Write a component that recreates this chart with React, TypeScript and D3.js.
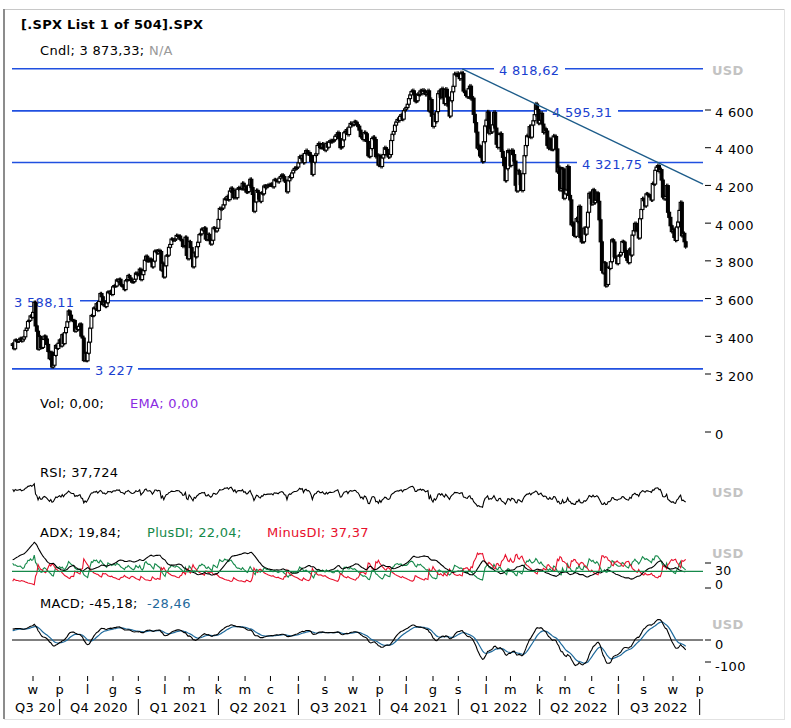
import React from "react";
import * as d3 from "d3";

// ---------- DATA (daily closes) ----------
const warmup2020 = [3055.73, 3080.82, 3122.87, 3112.35, 3193.93, 3232.39, 3207.18, 3190.14, 3002.1, 3041.31, 3066.59, 3124.74, 3113.49, 3115.34, 3097.74, 3117.86, 3131.29, 3050.33, 3083.76, 3009.05, 3053.24, 3100.29,
  3115.86, 3130.01, 3179.72, 3145.32, 3169.94, 3152.05, 3185.04, 3155.22, 3197.52, 3226.56, 3215.57, 3224.73, 3251.84, 3257.3, 3276.02, 3235.66, 3215.63, 3239.41, 3218.44, 3258.44, 3246.22, 3271.12,
  3294.61, 3306.51, 3327.77, 3349.16, 3351.28];
const aug2020 = [3360.47, 3333.69, 3380.35, 3373.43, 3372.85, 3381.99, 3389.78, 3374.85, 3385.51, 3397.16, 3431.28, 3443.62, 3478.73, 3484.55, 3508.01, 3500.31];
const sep2020 = [3526.65, 3580.84, 3455.06, 3426.96, 3331.84, 3398.96, 3339.19, 3340.97, 3383.54, 3401.2, 3385.49, 3357.01, 3319.47, 3281.06, 3315.57, 3236.92, 3246.59, 3298.46, 3351.6, 3335.47, 3363.0];
const oct2020 = [3380.8, 3348.42, 3408.6, 3360.97, 3419.44, 3446.83, 3477.14, 3534.22, 3511.93, 3488.67, 3483.34, 3483.81, 3426.92, 3443.12, 3435.56, 3453.49, 3465.39, 3400.97, 3390.68, 3271.03, 3310.11, 3269.96];
const nov2020 = [3310.24, 3369.16, 3443.44, 3510.45, 3509.44, 3550.5, 3545.53, 3572.66, 3537.01, 3585.15, 3626.91, 3609.53, 3567.79, 3581.87, 3557.54, 3577.59, 3635.41, 3629.65, 3638.35, 3621.63];
const dec2020 = [3662.45, 3669.01, 3666.72, 3699.12, 3691.96, 3702.25, 3672.82, 3668.1, 3663.46, 3647.49, 3694.62, 3701.17, 3722.48, 3709.41, 3694.92, 3687.26, 3690.01, 3703.06, 3735.36, 3727.04, 3732.04, 3756.07];
const jan2021 = [3700.65, 3726.86, 3748.14, 3803.79, 3824.68, 3799.61, 3801.19, 3809.84, 3795.54, 3768.25, 3798.91, 3851.85, 3853.07, 3841.47, 3855.36, 3849.62, 3750.77, 3787.38, 3714.24];
const feb2021 = [3773.86, 3826.31, 3830.17, 3871.74, 3886.83, 3915.59, 3911.23, 3909.88, 3916.38, 3934.83, 3932.59, 3931.33, 3913.97, 3906.71, 3876.5, 3881.37, 3925.43, 3829.34, 3811.15];
const mar2021 = [3901.82, 3870.29, 3819.72, 3768.47, 3841.94, 3821.35, 3875.44, 3898.81, 3939.34, 3943.34, 3968.94, 3962.71, 3974.12, 3915.46, 3913.1, 3940.59, 3910.52, 3889.14, 3909.52, 3974.54, 3971.09, 3958.55, 3972.89];
const apr2021 = [4019.87, 4077.91, 4073.94, 4079.95, 4097.17, 4128.8, 4127.99, 4141.59, 4124.66, 4170.42, 4185.47, 4163.26, 4134.94, 4173.42, 4134.98, 4180.17, 4187.62, 4186.72, 4183.18, 4211.47, 4181.17];
const may2021 = [4192.66, 4164.66, 4167.59, 4201.62, 4232.6, 4188.43, 4152.1, 4063.04, 4112.5, 4173.85, 4163.29, 4127.83, 4115.68, 4159.12, 4155.86, 4197.05, 4188.13, 4195.99, 4200.88, 4204.11];
const jun2021 = [4202.04, 4208.12, 4192.85, 4229.89, 4226.52, 4227.26, 4219.55, 4239.18, 4247.44, 4255.15, 4246.59, 4223.7, 4221.86, 4166.45, 4224.79, 4246.44, 4241.84, 4266.49, 4280.7, 4290.61, 4291.8, 4297.5];
const jul2021 = [4319.94, 4352.34, 4343.54, 4358.13, 4320.82, 4369.55, 4384.63, 4369.21, 4374.3, 4360.03, 4327.16, 4258.49, 4323.06, 4358.69, 4367.48, 4411.79, 4422.3, 4401.46, 4400.64, 4419.15, 4395.26];
const aug2021 = [4387.16, 4423.15, 4402.66, 4429.1, 4436.52, 4432.35, 4436.75, 4442.41, 4460.83, 4468.0, 4479.71, 4448.08, 4400.27, 4405.8, 4441.67, 4479.53, 4486.23, 4496.19, 4470.0, 4509.37, 4528.79, 4522.68];
const sep2021 = [4524.09, 4536.95, 4535.43, 4520.03, 4514.07, 4493.28, 4458.58, 4468.73, 4443.05, 4480.7, 4473.75, 4432.99, 4357.73, 4354.19, 4395.64, 4448.98, 4455.48, 4443.11, 4352.63, 4359.46, 4307.54];
const oct2021 = [4357.04, 4300.46, 4345.72, 4363.55, 4399.76, 4391.34, 4361.19, 4350.65, 4363.8, 4438.26, 4471.37, 4486.46, 4519.63, 4536.19, 4549.78, 4544.9, 4566.48, 4574.79, 4551.68, 4596.42, 4605.38];
const nov2021 = [4613.67, 4630.65, 4660.57, 4680.06, 4697.53, 4701.7, 4685.25, 4646.71, 4649.27, 4682.85, 4682.8, 4700.9, 4688.67, 4704.54, 4697.96, 4682.94, 4690.7, 4701.46, 4594.62, 4655.27, 4567.0];
const dec2021 = [4513.04, 4577.1, 4538.43, 4591.67, 4686.75, 4701.21, 4667.45, 4712.02, 4668.97, 4634.09, 4709.85, 4668.67, 4620.64, 4568.02, 4649.23, 4696.56, 4725.79, 4791.19, 4786.35, 4793.06, 4778.73, 4766.18];
const jan2022 = [4796.56, 4793.54, 4700.58, 4696.05, 4677.03, 4670.29, 4713.07, 4726.35, 4659.03, 4662.85, 4577.11, 4532.76, 4482.73, 4397.94, 4410.13, 4356.45, 4349.93, 4326.51, 4431.85, 4515.55];
const feb2022 = [4546.54, 4589.38, 4477.44, 4500.53, 4483.87, 4521.54, 4587.18, 4504.08, 4418.64, 4401.67, 4471.07, 4475.01, 4380.26, 4348.87, 4304.76, 4225.5, 4288.7, 4384.65, 4373.94];
const mar2022 = [4306.26, 4386.54, 4363.49, 4328.87, 4201.09, 4170.7, 4277.88, 4259.52, 4204.31, 4173.11, 4262.45, 4357.86, 4411.67, 4463.12, 4461.18, 4511.61, 4456.24, 4520.16, 4543.06, 4575.52, 4631.6, 4602.45, 4530.41];
const apr2022 = [4545.86, 4582.64, 4525.12, 4481.15, 4500.21, 4488.28, 4412.53, 4397.45, 4446.59, 4392.59, 4391.69, 4462.21, 4459.45, 4393.66, 4271.78, 4296.12, 4175.2, 4183.96, 4287.5, 4131.93];
const may2022 = [4155.38, 4175.48, 4300.17, 4146.87, 4123.34, 3991.24, 4001.05, 3935.18, 3930.08, 4023.89, 4008.01, 4088.85, 3923.68, 3900.79, 3901.36, 3973.75, 3941.48, 3978.73, 4057.84, 4158.24, 4132.15];
const jun2022 = [4101.23, 4176.82, 4108.54, 4121.43, 4160.68, 4115.77, 4017.82, 3900.86, 3749.63, 3735.48, 3789.99, 3666.77, 3674.84, 3764.79, 3759.89, 3795.73, 3911.74, 3900.11, 3821.55, 3818.83, 3785.38];
const jul2022 = [3825.33, 3831.39, 3845.08, 3902.62, 3899.38, 3854.43, 3818.8, 3801.78, 3790.38, 3863.16, 3830.85, 3936.69, 3959.9, 3998.95, 3961.63, 3966.84, 3921.05, 4023.61, 4072.43, 4130.29];
const aug2022 = [4118.63, 4091.19, 4155.17, 4151.94, 4145.19, 4140.06, 4122.47, 4210.24, 4207.27, 4280.15, 4297.14, 4305.2, 4274.04, 4283.74, 4228.48, 4137.99, 4128.73, 4140.77, 4199.12, 4057.66, 4030.61, 3986.16, 3955.0];
const sep2022 = [3966.85, 3924.26, 3908.19, 3979.87, 4006.18, 4067.36, 4110.41, 3932.69, 3946.01, 3901.35, 3873.33];

const monthBlocks = [aug2020, sep2020, oct2020, nov2020, dec2020, jan2021, feb2021, mar2021, apr2021, may2021, jun2021,
  jul2021, aug2021, sep2021, oct2021, nov2021, dec2021, jan2022, feb2022, mar2022, apr2022, may2022, jun2022, jul2022, aug2022, sep2022];

const marketHolidays = ["2020-09-07", "2020-11-26", "2020-12-25", "2021-01-01", "2021-01-18", "2021-02-15", "2021-04-02", "2021-05-31",
  "2021-07-05", "2021-09-06", "2021-11-25", "2021-12-24", "2022-01-17", "2022-02-21", "2022-04-15", "2022-05-30", "2022-06-20", "2022-07-04", "2022-09-05"];

const priceTicks = [3200, 3400, 3600, 3800, 4000, 4200, 4400, 4600];
const levelValues = [4818.62, 4595.31, 4321.75, 3588.11, 3227];
const trendStart = { date: "2022-01-04", value: 4818.62 };
const trendThrough = { date: "2022-08-16", value: 4321.75 };
const monthLetters = ["s", "l", "m", "k", "m", "c", "l", "s", "w", "p", "l", "g"];
const quarterNames = ["Q3 20", "Q4 2020", "Q1 2021", "Q2 2021", "Q3 2021", "Q4 2021", "Q1 2022", "Q2 2022", "Q3 2022"];

const titleText = "[.SPX List 1 of 504].SPX";
const rsiLast = 37.724;
const adxLast = 19.84;
const plusLast = 22.04;
const minusLast = 37.37;
const macdLast = -45.18;
const signalLast = -28.46;
const volLast = 0;
const volEmaLast = 0;
const adxTicks = [30, 0];
const adxGuide = 20;
const macdTicks = [0, -100];

// ---------- STYLE / LAYOUT ----------
const W = 791, H = 728;
const FONT = "DejaVu Sans, Verdana, sans-serif";
const BLUE = "#2050e0";
const BLUE_TXT = "#1a3fd0";
const TREND = "#1d5c8a";
const GREEN = "#15894a";
const RED = "#e8102c";
const SIGBLUE = "#1f6a9c";
const GRAY = "#c3c3c3";
const levelLabelX = [499, 552, 582, 14, 95];
const levelLabelW = [60, 60, 60, 60, 37];
const X_L = 12, X_R = 703;

const loc = d3.formatLocale({ decimal: ",", thousands: "\u00a0", grouping: [3], currency: ["", ""], minus: "-" });
const f2 = loc.format(",.2f");
const f3 = loc.format(",.3f");
const fInt = loc.format(",d");
const fLevel = (v: number) => (Number.isInteger(v) ? fInt(v) : f2(v));

function isoDay(d: Date) { return d.toISOString().slice(0, 10); }
function tradingDays(start: string, end: string) {
  const hol = new Set(marketHolidays);
  const out: Date[] = [];
  let d = new Date(start + "T00:00:00Z");
  const e = new Date(end + "T00:00:00Z");
  while (d <= e) {
    const wd = d.getUTCDay();
    if (wd !== 0 && wd !== 6 && !hol.has(isoDay(d))) out.push(new Date(d));
    d = new Date(d.getTime() + 86400000);
  }
  return out;
}

function ema(a: number[], n: number) {
  const k = 2 / (n + 1);
  const out: number[] = [];
  a.forEach((v, i) => out.push(i === 0 ? v : v * k + out[i - 1] * (1 - k)));
  return out;
}
// Wilder smoothing seeded with the mean of the first n values
function wilder(a: number[], n: number, from = 0) {
  const out: number[] = new Array(a.length).fill(NaN);
  const seedEnd = from + n;
  let s = 0;
  for (let i = from; i < Math.min(seedEnd, a.length); i++) { s += a[i]; out[i] = s / (i - from + 1); }
  for (let i = seedEnd; i < a.length; i++) out[i] = (out[i - 1] * (n - 1) + a[i]) / n;
  return out;
}

export default function App() {
  const closes = monthBlocks.flat();
  const all = warmup2020.concat(closes);
  const W0 = warmup2020.length;
  const opens = all.map((c, i) => (i === 0 ? c : all[i - 1]));
  const highs = all.map((c, i) => Math.max(c, opens[i]) * 1.0025);
  const lows = all.map((c, i) => Math.min(c, opens[i]) * 0.9975);

  // MACD
  const e12 = ema(all, 12), e26 = ema(all, 26);
  const macdAll = all.map((_, i) => e12[i] - e26[i]);
  const sigAll = ema(macdAll, 9);
  // RSI
  const gains = all.map((c, i) => (i === 0 ? 0 : Math.max(c - all[i - 1], 0)));
  const losses = all.map((c, i) => (i === 0 ? 0 : Math.max(all[i - 1] - c, 0)));
  const ag = wilder(gains, 14, 1), al = wilder(losses, 14, 1);
  const rsiAll = all.map((_, i) => (al[i] === 0 ? 100 : 100 - 100 / (1 + ag[i] / al[i])));
  // ADX / DI
  const tr = all.map((_, i) => i === 0 ? highs[i] - lows[i] : Math.max(highs[i] - lows[i], Math.abs(highs[i] - all[i - 1]), Math.abs(lows[i] - all[i - 1])));
  const pdm = all.map((_, i) => { if (i === 0) return 0; const up = highs[i] - highs[i - 1], dn = lows[i - 1] - lows[i]; return up > dn && up > 0 ? up : 0; });
  const mdm = all.map((_, i) => { if (i === 0) return 0; const up = highs[i] - highs[i - 1], dn = lows[i - 1] - lows[i]; return dn > up && dn > 0 ? dn : 0; });
  const str = wilder(tr, 14, 1), sp = wilder(pdm, 14, 1), sm = wilder(mdm, 14, 1);
  const pdi = all.map((_, i) => (100 * sp[i]) / str[i]);
  const mdi = all.map((_, i) => (100 * sm[i]) / str[i]);
  const dx = all.map((_, i) => (100 * Math.abs(pdi[i] - mdi[i])) / Math.max(pdi[i] + mdi[i], 1e-9));
  const adxAll = wilder(dx, 14, 15);

  const sl = (a: number[]) => a.slice(W0);
  const O = sl(opens), Hh = sl(highs), Ll = sl(lows);
  const rsi = sl(rsiAll), macd = sl(macdAll), sig = sl(sigAll), pd = sl(pdi), md = sl(mdi), adx = sl(adxAll);

  const days = tradingDays("2020-08-10", "2022-10-31");
  const dayIndex = (iso: string) => days.findIndex((d) => isoDay(d) === iso);

  const x = d3.scaleLinear().domain([16, 520]).range([33, 673]);
  const yP = d3.scaleLinear().domain([3200, 4600]).range([374, 110]);
  const yR = d3.scaleLinear().domain([0, 100]).range([517, 477]);
  const yA = d3.scaleLinear().domain([0, 30]).range([588, 563]);
  const yM = d3.scaleLinear().domain([-100, 0]).range([662, 640]);

  const lineOf = (ys: d3.ScaleLinear<number, number>) =>
    d3.line<number>().defined((v) => Number.isFinite(v)).x((_, i) => x(i)).y((v) => ys(v));

  // month ticks up to Oct 2022
  const lastTickIdx = dayIndex("2022-10-03");
  const monthTicks: { i: number; m: number; px: number }[] = [];
  for (let i = 1; i <= lastTickIdx; i++) {
    const m = days[i].getUTCMonth();
    if (m !== days[i - 1].getUTCMonth()) monthTicks.push({ i, m, px: x(i) - (m === 0 ? 2.6 : 0) });
  }
  const qSeps = monthTicks.filter((t) => t.m % 3 === 0);

  // trend line
  const ti0 = dayIndex(trendStart.date), ti1 = dayIndex(trendThrough.date);
  const tx0 = x(ti0), ty0 = yP(trendStart.value), tx1 = x(ti1), ty1 = yP(trendThrough.value);
  const slope = (ty1 - ty0) / (tx1 - tx0);
  const tyEnd = ty0 + slope * (X_R - tx0);

  const bodyW = 2.9;
  const txt = { fontFamily: FONT, fontSize: 13, letterSpacing: 0.3 } as const;

  return (
    <svg width={W} height={H} style={{ position: "absolute", left: 0, top: 0, background: "#fff" }}>
      <rect x={0} y={0} width={W} height={H} fill="#fff" />
      {/* frame */}
      <line x1={4} y1={9.5} x2={784} y2={9.5} stroke="#c8c8c8" strokeWidth={1} />
      <line x1={4} y1={9} x2={4} y2={719} stroke="#8c8c8c" strokeWidth={2} />
      <line x1={784.5} y1={9} x2={784.5} y2={719} stroke="#e2e2e2" strokeWidth={1} />
      <line x1={4} y1={719.5} x2={785} y2={719.5} stroke="#e2e2e2" strokeWidth={1} />

      {/* headers */}
      <text x={21} y={29} {...txt} fontWeight="bold" fill="#000">{titleText}</text>
      <text x={40} y={55} {...txt} fill="#000">
        {`Cndl; ${f2(closes[closes.length - 1])}; `}<tspan fill="#9a9a9a">N/A</tspan>
      </text>

      {/* horizontal levels */}
      {levelValues.map((v, k) => {
        const yy = yP(v);
        const g0 = levelLabelX[k] - 5, g1 = levelLabelX[k] + levelLabelW[k] + 6;
        return (
          <g key={"lv" + k}>
            {g0 > X_L && <line x1={X_L} x2={g0} y1={yy} y2={yy} stroke={BLUE} strokeWidth={1.6} />}
            <line x1={Math.max(g1, X_L)} x2={X_R} y1={yy} y2={yy} stroke={BLUE} strokeWidth={1.6} />
            <text x={levelLabelX[k]} y={yP(v) + 2} dy="0.35em" {...txt} fill={BLUE_TXT}>{fLevel(v)}</text>
          </g>
        );
      })}

      {/* candles */}
      <g>
        {closes.map((c, i) => {
          const cx = x(i);
          const o = O[i];
          const yt = yP(Math.max(o, c)), yb = yP(Math.min(o, c));
          const up = c >= o;
          return (
            <g key={"c" + i}>
              <line x1={cx} x2={cx} y1={yP(Hh[i])} y2={yP(Ll[i])} stroke="#000" strokeWidth={1} />
              <rect x={cx - bodyW / 2} y={yt} width={bodyW} height={Math.max(yb - yt, 1)}
                fill={up ? "#fff" : "#000"} stroke="#000" strokeWidth={1.1} />
            </g>
          );
        })}
      </g>

      {/* trend line */}
      <line x1={tx0} y1={ty0} x2={X_R} y2={tyEnd} stroke={TREND} strokeWidth={1.4} />

      {/* price axis */}
      <text x={712} y={70} dy="0.35em" {...txt} fontWeight="bold" fill={GRAY}>USD</text>
      {priceTicks.map((t) => (
        <g key={"pt" + t}>
          <line x1={705} x2={711} y1={yP(t)} y2={yP(t)} stroke="#000" strokeWidth={1} />
          <text x={715} y={yP(t) + 2} dy="0.35em" {...txt} fill="#000">{fInt(t)}</text>
        </g>
      ))}

      {/* volume panel */}
      <text x={40} y={408} {...txt} fill="#000">{`Vol; ${f2(volLast)};`}</text>
      <text x={130} y={408} {...txt} fill="#8a2be2">{`EMA; ${f2(volEmaLast)}`}</text>
      <line x1={705} x2={711} y1={432} y2={432} stroke="#000" strokeWidth={1} />
      <text x={715} y={434} dy="0.35em" {...txt} fill="#000">{fInt(0)}</text>

      {/* RSI panel */}
      <text x={40} y={477} {...txt} fill="#000">{`RSI; ${f3(rsiLast)}`}</text>
      <path d={lineOf(yR)(rsi) || ""} fill="none" stroke="#000" strokeWidth={1.1} />
      <text x={712} y={492} dy="0.35em" {...txt} fontWeight="bold" fill={GRAY}>USD</text>

      {/* ADX panel */}
      <text x={40} y={537} {...txt} fill="#000">{`ADX; ${f2(adxLast)};`}</text>
      <text x={147} y={537} {...txt} fill={GREEN}>{`PlusDI; ${f2(plusLast)};`}</text>
      <text x={267} y={537} {...txt} fill={RED}>{`MinusDI; ${f2(minusLast)}`}</text>
      <path d={lineOf(yA)(pd) || ""} fill="none" stroke={GREEN} strokeWidth={1.1} />
      <path d={lineOf(yA)(md) || ""} fill="none" stroke={RED} strokeWidth={1.1} />
      <path d={lineOf(yA)(adx) || ""} fill="none" stroke="#000" strokeWidth={1.1} />
      <line x1={X_L} x2={X_R} y1={yA(adxGuide)} y2={yA(adxGuide)} stroke={GREEN} strokeWidth={1.2} />
      <text x={712} y={553} dy="0.35em" {...txt} fontWeight="bold" fill={GRAY}>USD</text>
      {adxTicks.map((t) => (
        <g key={"at" + t}>
          <line x1={705} x2={711} y1={yA(t)} y2={yA(t)} stroke="#000" strokeWidth={1} />
          <text x={715} y={yA(t) + (t === 0 ? -3 : 8)} dy="0.35em" {...txt} fontSize={12.5} fill="#000">{fInt(t)}</text>
        </g>
      ))}

      {/* MACD panel */}
      <text x={40} y={608} {...txt} fill="#000">{`MACD; ${f2(macdLast)};`}</text>
      <text x={147} y={608} {...txt} fill={SIGBLUE}>{f2(signalLast)}</text>
      <line x1={X_L} x2={X_R} y1={yM(0)} y2={yM(0)} stroke="#000" strokeWidth={1} />
      <path d={lineOf(yM)(sig) || ""} fill="none" stroke={SIGBLUE} strokeWidth={1.2} />
      <path d={lineOf(yM)(macd) || ""} fill="none" stroke="#000" strokeWidth={1.1} />
      <text x={712} y={624} dy="0.35em" {...txt} fontWeight="bold" fill={GRAY}>USD</text>
      {macdTicks.map((t) => (
        <g key={"mt" + t}>
          <line x1={705} x2={711} y1={yM(t)} y2={yM(t)} stroke="#000" strokeWidth={1} />
          <text x={715} y={yM(t) + 4} dy="0.35em" {...txt} fill="#000">{fInt(t)}</text>
        </g>
      ))}

      {/* time axis */}
      {monthTicks.map((t) => (
        <g key={"mt" + t.i}>
          <line x1={t.px} x2={t.px} y1={676} y2={681} stroke="#000" strokeWidth={1} />
          <text x={t.px} y={689} dy="0.35em" textAnchor="middle" {...txt} fill="#000">{monthLetters[t.m]}</text>
        </g>
      ))}
      {qSeps.map((t) => (
        <line key={"qs" + t.i} x1={t.px} x2={t.px} y1={699} y2={715} stroke="#000" strokeWidth={1} />
      ))}
      {quarterNames.map((q, k) => {
        if (k === 0) return <text key={q} x={qSeps[0].px - 4} y={707} dy="0.35em" textAnchor="end" {...txt} fill="#000">{q}</text>;
        const a = qSeps[k - 1].px, b = qSeps[k].px;
        return <text key={q} x={(a + b) / 2} y={707} dy="0.35em" textAnchor="middle" {...txt} fill="#000">{q}</text>;
      })}
    </svg>
  );
}
